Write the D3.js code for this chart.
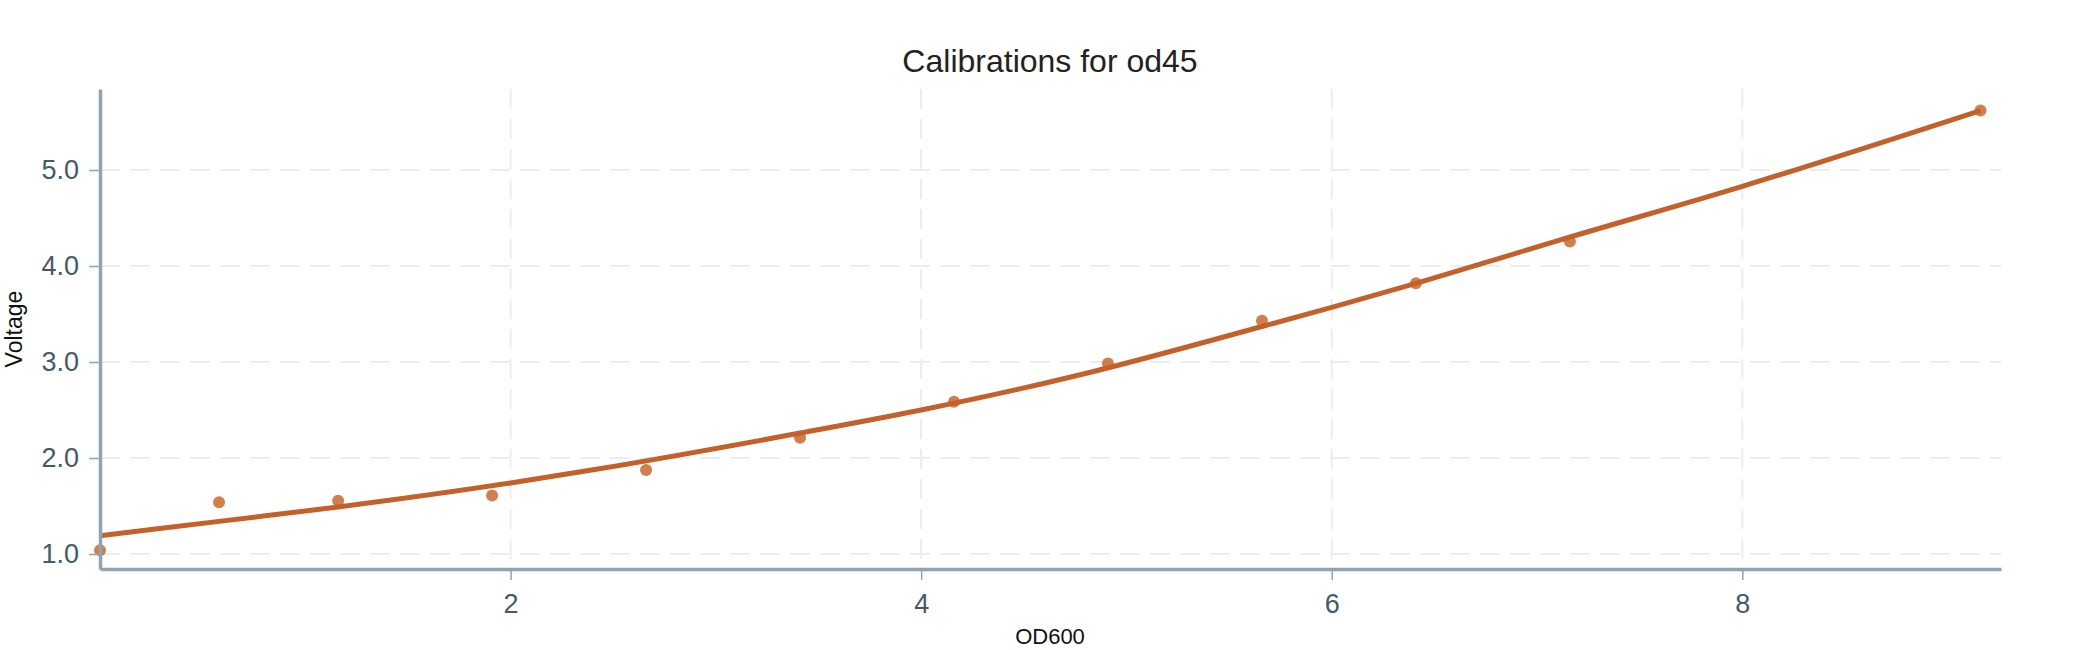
<!DOCTYPE html>
<html>
<head>
<meta charset="utf-8">
<title>Calibrations for od45</title>
<script src="https://d3js.org/d3.v7.min.js"></script>
<style>
  body { margin: 0; background: #fff; }
  svg { display: block; font-family: "Liberation Sans", Arial, sans-serif; }
  .axis .domain { stroke: #90a4ae; stroke-width: 3.5; }
  .axis .tick line { stroke: #90a4ae; stroke-width: 1.5; }
  .axis .tick text { fill: #455a64; font-size: 27px; }
  .grid line { stroke: #eaeef1; stroke-width: 2; stroke-dasharray: 20 10; }
</style>
</head>
<body>
<svg></svg>
<script>
// measured calibration points (OD600 -> Voltage)
var odValues = [0, 0.58, 1.16, 1.91, 2.66, 3.41, 4.16, 4.91, 5.66, 6.41, 7.16, 9.16];
var voltValues = [1.04, 1.54, 1.555, 1.61, 1.875, 2.21, 2.585, 2.985, 3.43, 3.82, 4.255, 5.62];

// fitted curve
var curveOd = [0, 0.58, 1.16, 2.0, 2.41, 3.41, 4.0, 4.78, 5.66, 6.0, 6.41, 7.11, 8.0, 9.16];
var curveVolt = [1.19, 1.34, 1.49, 1.74, 1.88, 2.26, 2.50, 2.87, 3.37, 3.57, 3.82, 4.27, 4.83, 5.62];

var xTicks = [2, 4, 6, 8];
var yTicks = [1, 2, 3, 4, 5];

var margin = {top: 89, bottom: 81, left: 100, right: 99};
var width = 2100 - margin.left - margin.right;
var height = 650 - margin.top - margin.bottom;

var xs = d3.scaleLinear().domain([0, 9.26]).range([0, width]);
var ys = d3.scaleLinear().domain([0.844, 5.844]).range([height, 0]);

var svg = d3.select("svg")
    .attr("width", 2100)
    .attr("height", 650);

var graph = svg.append("g")
    .attr("transform", "translate(" + margin.left + "," + margin.top + ")");

// grid
var grid = graph.append("g").attr("class", "grid");

grid.selectAll("line.h")
    .data(yTicks)
    .enter()
    .append("line")
    .attr("class", "h")
    .attr("x1", 0)
    .attr("x2", width)
    .attr("y1", function(d) { return ys(d); })
    .attr("y2", function(d) { return ys(d); });

grid.selectAll("line.v")
    .data(xTicks)
    .enter()
    .append("line")
    .attr("class", "v")
    .attr("y1", 0)
    .attr("y2", height)
    .attr("x1", function(d) { return xs(d); })
    .attr("x2", function(d) { return xs(d); });

// points
graph.append("g")
  .selectAll("circle")
    .data(odValues)
    .enter()
    .append("circle")
    .attr("cx", function(d) { return xs(d); })
    .attr("cy", function(d, i) { return ys(voltValues[i]); })
    .attr("r", 6)
    .attr("fill", "#c8692f")
    .attr("fill-opacity", 0.85);

// fit line
var line = d3.line()
    .x(function(d) { return xs(d); })
    .y(function(d, i) { return ys(curveVolt[i]); })
    .curve(d3.curveMonotoneX);

graph.append("path")
    .datum(curveOd)
    .attr("d", line)
    .attr("fill", "none")
    .attr("stroke", "#c4602a")
    .attr("stroke-width", 5);

// axes
var xa = d3.axisBottom(xs).tickValues(xTicks).tickSize(11).tickSizeOuter(0).tickPadding(14);
var ya = d3.axisLeft(ys).tickValues(yTicks).tickFormat(d3.format(".1f")).tickSize(11).tickSizeOuter(0).tickPadding(10);

graph.append("g")
    .attr("class", "axis")
    .attr("transform", "translate(0," + height + ")")
    .call(xa);

graph.append("g")
    .attr("class", "axis")
    .call(ya);

// titles
svg.append("text")
    .attr("x", 1050)
    .attr("y", 72)
    .attr("text-anchor", "middle")
    .attr("font-size", 32)
    .attr("fill", "#222")
    .text("Calibrations for od45");

svg.append("text")
    .attr("x", 1050)
    .attr("y", 644)
    .attr("text-anchor", "middle")
    .attr("font-size", 22)
    .attr("fill", "#111")
    .text("OD600");

svg.append("text")
    .attr("transform", "translate(22," + (margin.top + height / 2) + ") rotate(-90)")
    .attr("text-anchor", "middle")
    .attr("font-size", 23)
    .attr("fill", "#111")
    .text("Voltage");
</script>
</body>
</html>
